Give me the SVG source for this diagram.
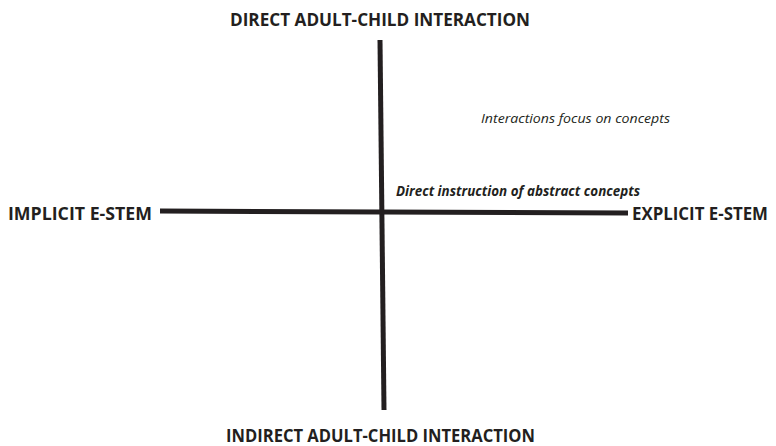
<svg xmlns="http://www.w3.org/2000/svg" width="776" height="446" viewBox="0 0 776 446">
<style>
.lbl{font-family:"Open Sans","Liberation Sans",sans-serif;font-weight:bold;font-size:18px;fill:#231f20}
.it{font-family:"Open Sans","Liberation Sans",sans-serif;font-style:italic;font-size:13px;fill:#231f20}
.bi{font-family:"Open Sans","Liberation Sans",sans-serif;font-style:italic;font-weight:bold;font-size:13.5px;fill:#231f20}
.axis{stroke:#231f20;stroke-width:5;fill:none}
</style>
<rect width="776" height="446" fill="#ffffff"/>
<g id="connectors">
<line class="axis" x1="380" y1="40" x2="384" y2="410"/>
<line class="axis" x1="160" y1="211" x2="628" y2="213"/>
</g>
<g id="top"><text class="lbl" x="230" y="26" textLength="300" lengthAdjust="spacingAndGlyphs">DIRECT ADULT-CHILD INTERACTION</text></g>
<g id="left"><text class="lbl" x="8" y="219.5" textLength="144" lengthAdjust="spacingAndGlyphs">IMPLICIT E-STEM</text></g>
<g id="right"><text class="lbl" x="632" y="219.5" textLength="136" lengthAdjust="spacingAndGlyphs">EXPLICIT E-STEM</text></g>
<g id="bottom"><text class="lbl" x="226" y="442" textLength="309" lengthAdjust="spacingAndGlyphs">INDIRECT ADULT-CHILD INTERACTION</text></g>
<g id="note1"><text class="it" x="481" y="123" textLength="189" lengthAdjust="spacingAndGlyphs">Interactions focus on concepts</text></g>
<g id="note2"><text class="bi" x="396" y="196" textLength="244" lengthAdjust="spacingAndGlyphs">Direct instruction of abstract concepts</text></g>
</svg>
